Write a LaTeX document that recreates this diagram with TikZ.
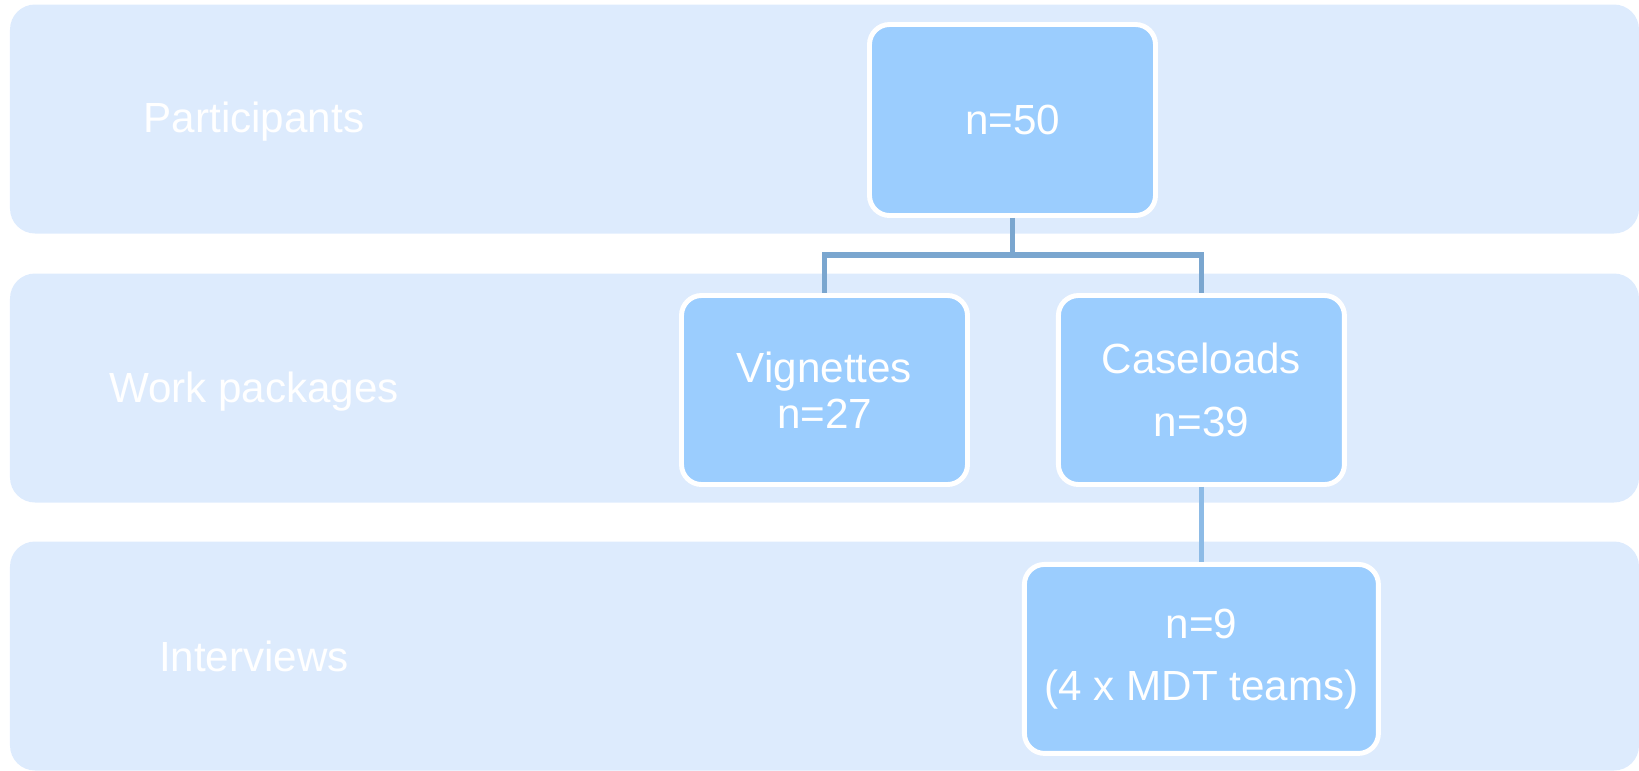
\documentclass[tikz,border=0pt]{standalone}
\usepackage{fontspec}
\setmainfont{Liberation Sans}
\usetikzlibrary{positioning}

\definecolor{bandblue}{HTML}{DDEBFD}
\definecolor{boxblue}{HTML}{9BCDFE}
\definecolor{linkblue}{HTML}{7AA6CF}
\definecolor{linklight}{HTML}{8DBBE6}

\begin{document}
\begin{tikzpicture}[
  band/.style={rectangle, fill=bandblue, rounded corners=0.25cm, minimum width=16.29cm, minimum height=2.29cm, inner sep=0pt},
  bandlabel/.style={text=white, font=\fontsize{12}{13}\selectfont},
  box/.style={rectangle, draw=white, line width=1.4pt, fill=boxblue, rounded corners=0.2cm, minimum width=2.86cm, minimum height=1.89cm, align=center, text=white, font=\fontsize{12}{13}\selectfont},
  link/.style={draw=linkblue, line width=1.6pt}
]
\useasboundingbox (0,0) rectangle (16.39,-7.70);
% background bands
\node[band] (rowpart) at (8.245,-1.19) {};
\node[band] (rowwork) at (8.245,-3.88) {};
\node[band] (rowint) at (8.245,-6.56) {};
\node[bandlabel] at (2.54,-1.22) {Participants};
\node[bandlabel] at (2.54,-3.92) {Work packages};
\node[bandlabel] at (2.54,-6.56) {Interviews};
% boxes
\node[box, minimum height=1.91cm] (total) at (10.125,-1.20) {n=50};
\node[box] (vign) at (8.245,-3.90) {Vignettes\\ n=27};
\node[box, right=0.86cm of vign] (case) {Caseloads\\[5pt] n=39};
\node[box, minimum width=3.54cm, below=0.75cm of case] (inter) {n=9\\[4.5pt] (4 x MDT teams)};
% connectors
\coordinate (bus) at (total.south |- 0,-2.55);
\draw[link] (total.south) -- (bus);
\foreach \b in {vign, case}
  \draw[link] (bus) -| (\b.north);
\draw[link, draw=linklight] (case.south) -- (inter.north);
\end{tikzpicture}
\end{document}
